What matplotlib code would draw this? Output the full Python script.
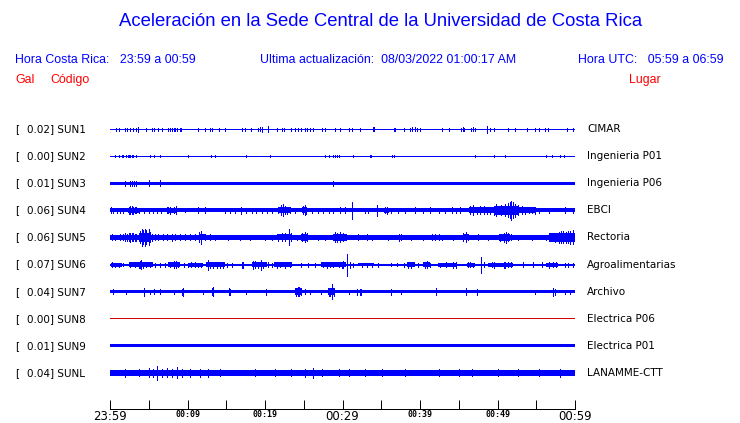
import numpy as np
import matplotlib
matplotlib.use("Agg")
import matplotlib.pyplot as plt

W, H = 740, 423

codes = ["SUN1", "SUN2", "SUN3", "SUN4", "SUN5", "SUN6", "SUN7", "SUN8", "SUN9", "SUNL"]
peaks = [0.02, 0.00, 0.01, 0.06, 0.06, 0.07, 0.04, 0.00, 0.01, 0.04]
places = ["CIMAR", "Ingenieria P01", "Ingenieria P06", "EBCI", "Rectoria",
          "Agroalimentarias", "Archivo", "Electrica P06", "Electrica P01", "LANAMME-CTT"]

# background amplitude of each trace (half width, screen units)
base_amp = [0.5, 0.5, 1.6, 2.0, 2.2, 1.0, 1.6, 0.5, 1.6, 3.0]

# spikes: minute after 23:59, half amplitude
sun1_t = [0.8, 1.2, 1.9, 2.2, 2.6, 3.0, 3.4, 3.6, 4.7, 5.4, 5.7, 6.2, 6.7, 7.5, 7.7, 8.0,
          8.2, 8.4, 8.6, 9.0, 9.2, 11.4, 12.3, 12.9, 13.1, 14.0, 14.8, 17.0, 17.4, 18.2,
          19.1, 19.4, 19.6, 20.4, 21.5, 22.2, 22.4, 23.4, 23.9, 24.3, 24.7, 25.2, 25.4,
          25.8, 26.2, 27.4, 27.7, 29.0, 29.7, 30.8, 31.2, 32.3, 33.9, 34.1, 36.6, 36.8,
          37.9, 38.7, 39.0, 39.3, 39.6, 40.0, 42.8, 43.7, 45.3, 45.5, 45.7, 46.6, 46.8,
          47.1, 48.6, 49.0, 49.6, 51.4, 52.3, 53.8, 54.8, 55.3, 56.1, 56.5, 59.0, 59.8]
sun1_a = [1.5, 1.5, 1.5, 1.5, 1.5, 1.5, 1.5, 2.5, 1.5, 1.5, 1.5, 1.5, 1.5, 1.5, 1.5, 1.5,
          1.5, 1.5, 1.5, 1.5, 1.5, 1.5, 1.5, 1.5, 1.5, 1.5, 1.5, 1.5, 1.5, 1.5,
          1.5, 2.0, 2.5, 3.0, 1.5, 1.5, 1.5, 1.5, 1.5, 1.5, 1.5, 1.5, 1.5,
          1.5, 1.5, 1.5, 1.5, 1.5, 1.5, 1.5, 1.5, 1.5, 2.0, 2.0, 1.5, 1.5,
          1.5, 1.5, 2.0, 2.0, 1.5, 1.5, 1.5, 1.5, 1.5, 2.0, 1.5, 1.5, 2.0,
          1.5, 3.5, 1.5, 1.5, 1.5, 1.5, 1.5, 1.5, 1.5, 1.5, 1.5, 1.5, 1.5]

sun2_t = [0.7, 1.2, 1.5, 1.7, 2.0, 2.3, 2.5, 2.6, 2.8, 3.0, 3.4, 5.1, 5.7, 6.4, 10.1,
          13.0, 13.6, 17.6, 20.7, 27.7, 28.2, 28.8, 29.0, 29.3, 29.5, 31.4, 33.5, 33.7,
          36.4, 36.7, 47.1, 49.5, 51.0, 56.2, 57.0, 58.1, 58.6]
sun2_a = [1.0] * len(sun2_t)

sun3_t = [1.9, 2.6, 2.9, 3.1, 3.3, 5.0, 6.4, 28.8]
sun3_a = [2.5, 2.5, 2.5, 2.5, 2.5, 3.0, 3.0, 2.5]

sun4_t = [0.1, 0.4, 0.9, 1.3, 1.7, 2.4, 2.6, 2.8, 3.0, 3.2, 3.4, 3.7, 4.4, 5.0, 5.6,
          6.0, 6.6, 7.3, 7.5, 7.8, 8.2, 8.5, 9.7, 11.3, 12.3, 14.8, 15.5, 16.1, 16.9,
          17.6, 18.3, 18.9, 19.6, 20.2, 20.9, 21.7, 22.1, 22.3, 22.6, 22.9, 23.2, 23.9,
          24.9, 25.1, 25.3, 26.0, 26.9, 27.5, 28.2, 28.8, 29.7, 30.3, 31.2, 32.9, 33.3,
          34.4, 35.5, 35.8, 36.3, 37.2, 38.1, 39.4, 40.4, 41.3, 42.4, 43.2, 44.1, 44.7,
          45.2, 46.5, 46.9, 47.3, 47.7, 48.2, 48.6, 49.0, 49.5, 49.8, 50.1, 50.5, 51.0,
          51.3, 51.6, 51.8, 52.0, 52.3, 52.7, 53.1, 53.6, 54.0, 54.4, 54.8, 55.3, 56.6,
          58.7, 59.8]
sun4_a = [3.0, 2.5, 2.5, 2.5, 2.5, 3.5, 4.0, 4.0, 3.5, 3.0, 3.0, 2.5, 2.5, 2.5, 2.5,
          2.5, 2.5, 3.0, 3.0, 3.5, 3.0, 4.0, 2.0, 3.0, 3.0, 2.5, 2.5, 2.5, 3.5,
          2.5, 2.5, 2.5, 2.5, 2.5, 2.5, 3.0, 5.0, 6.0, 4.0, 3.5, 3.0, 2.5,
          4.0, 5.0, 3.5, 2.5, 2.5, 2.5, 2.5, 2.5, 3.0, 3.0, 8.5, 2.5, 2.5,
          5.5, 3.0, 3.5, 2.5, 2.5, 2.5, 3.0, 2.5, 3.0, 2.5, 2.5, 3.0, 2.5,
          3.0, 4.0, 5.0, 3.5, 4.0, 4.0, 3.5, 3.5, 4.5, 6.0, 4.0, 5.0, 6.0,
          7.0, 8.0, 9.5, 8.0, 6.5, 5.0, 4.0, 3.5, 3.0, 3.0, 3.5, 2.5, 2.5,
          3.0, 2.5]

sun5_t = [0.2, 0.7, 1.3, 1.7, 1.9, 2.2, 2.4, 2.6, 2.8, 3.0, 3.2, 3.4, 3.9, 4.1, 4.3,
          4.5, 4.7, 5.0, 5.2, 5.4, 5.8, 6.2, 6.9, 7.3, 8.0, 8.4, 9.0, 9.7, 10.3, 11.0,
          11.5, 11.7, 11.8, 12.3, 12.9, 13.6, 15.2, 16.8, 18.1, 20.0, 20.9, 21.7, 22.2,
          22.6, 23.1, 23.4, 24.1, 24.8, 25.1, 25.4, 26.9, 27.7, 29.0, 29.3, 29.7, 30.1,
          30.5, 32.0, 33.1, 33.8, 35.9, 37.3, 37.6, 38.9, 40.4, 41.5, 41.9, 42.4, 42.8,
          44.3, 45.6, 45.9, 46.2, 47.5, 48.8, 50.3, 50.8, 51.1, 51.4, 51.8, 52.7, 54.4,
          56.3, 57.0, 57.4, 57.9, 58.2, 58.5, 58.8, 59.1, 59.4, 59.8]
sun5_a = [3.0, 2.5, 3.0, 3.0, 4.0, 3.5, 4.0, 4.5, 4.0, 4.0, 3.5, 3.5, 6.0, 8.5, 7.0,
          8.5, 7.0, 8.0, 5.0, 3.5, 3.0, 3.0, 3.0, 3.0, 3.5, 3.0, 3.0, 3.0, 3.0, 3.0,
          5.0, 6.5, 4.0, 3.0, 3.0, 2.5, 2.5, 2.5, 2.5, 2.5, 2.5, 3.5, 4.0,
          4.0, 8.0, 4.0, 2.5, 4.0, 5.0, 4.0, 2.5, 2.5, 5.0, 4.5, 5.0, 4.0,
          3.0, 3.0, 3.0, 2.5, 2.5, 3.5, 3.0, 2.5, 2.5, 3.0, 3.0, 3.0, 2.5,
          2.5, 4.0, 5.0, 3.0, 3.0, 2.5, 3.5, 4.5, 5.5, 4.0, 3.0, 2.5, 2.5,
          2.5, 3.5, 4.5, 5.5, 6.0, 6.0, 5.5, 6.0, 6.5, 7.0]

sun6_t = [0.2, 0.7, 1.1, 1.7, 2.6, 3.2, 3.7, 3.9, 4.0, 4.3, 4.7, 5.2, 5.8, 6.5, 7.1,
          7.7, 8.2, 8.5, 8.8, 9.5, 10.0, 10.5, 11.0, 11.4, 11.8, 12.6, 12.9, 13.3, 13.8,
          14.2, 14.6, 15.1, 15.7, 17.0, 17.2, 18.5, 18.7, 19.1, 19.5, 19.8, 20.4, 20.9,
          21.5, 21.9, 22.6, 23.2, 24.7, 25.6, 26.5, 27.5, 28.0, 28.4, 28.8, 29.5, 29.9,
          30.1, 30.6, 31.0, 31.4, 32.5, 33.1, 33.8, 34.6, 36.3, 37.0, 37.9, 38.5, 38.9,
          39.8, 40.6, 40.9, 41.3, 42.6, 43.4, 44.3, 44.7, 46.2, 46.5, 46.9, 47.9, 48.2,
          49.3, 49.5, 50.8, 51.0, 51.4, 51.8, 53.3, 54.6, 55.7, 56.6, 57.2, 57.6, 58.7,
          59.1, 59.8]
sun6_a = [2.5, 2.0, 2.0, 1.5, 2.0, 2.5, 3.0, 3.5, 4.5, 3.0, 2.5, 2.0, 2.0, 2.0, 2.0,
          2.5, 3.5, 3.5, 2.5, 2.0, 2.0, 2.5, 2.5, 2.0, 2.0, 5.0, 3.0, 3.0, 3.0,
          3.0, 3.0, 2.0, 2.0, 3.0, 3.0, 4.0, 3.5, 3.0, 5.0, 3.0, 2.5, 2.0,
          3.0, 2.5, 3.0, 2.5, 2.0, 2.0, 2.0, 2.5, 3.0, 2.5, 2.5, 2.5, 3.0,
          3.5, 11.0, 3.0, 2.0, 2.0, 2.0, 2.0, 2.0, 1.5, 1.5, 2.0, 3.0, 3.0,
          2.0, 3.0, 3.5, 2.0, 2.0, 2.5, 3.0, 3.0, 2.5, 2.5, 2.0, 8.0, 2.5,
          2.5, 3.0, 3.0, 3.0, 2.5, 2.5, 2.5, 2.5, 2.5, 3.0, 2.5, 2.5, 2.0,
          2.0, 2.0]

sun7_t = [0.4, 2.1, 4.4, 5.1, 5.7, 6.5, 8.2, 9.3, 9.4, 12.0, 13.2, 13.3, 15.3, 15.4,
          15.5, 17.6, 20.1, 24.0, 24.2, 24.4, 24.7, 25.1, 25.8, 27.2, 28.2, 28.4, 28.6,
          28.7, 28.9, 30.8, 31.9, 32.2, 32.4, 36.3, 37.6, 42.1, 45.9, 47.4, 54.8, 57.2,
          57.4, 58.7, 59.4]
sun7_a = [2.5, 2.0, 4.0, 2.0, 2.5, 2.5, 2.0, 3.0, 4.0, 2.0, 3.5, 4.5, 3.0, 3.5,
          3.0, 2.0, 3.0, 4.0, 4.5, 4.5, 3.0, 2.5, 2.0, 2.0, 4.0, 4.0, 4.5,
          7.5, 4.0, 2.0, 3.0, 3.0, 3.0, 3.0, 2.0, 3.5, 3.5, 3.0, 2.0, 4.0,
          3.0, 2.0, 2.0]

sun8_t = []
sun8_a = []

sun9_t = []
sun9_a = []

sunl_t = [1.9, 3.7, 5.0, 5.6, 6.1, 6.7, 7.3, 8.0, 8.7, 9.3, 10.3, 11.6, 12.7, 14.2,
          18.7, 21.3, 23.4, 25.2, 26.2, 27.3, 29.5, 30.8, 32.9, 35.1, 38.1, 42.4, 45.0,
          46.7, 50.1, 52.7, 55.3, 58.1]
sunl_a = [4.0, 3.5, 4.5, 4.0, 7.0, 4.0, 4.5, 4.0, 5.5, 4.0, 4.0, 4.0, 4.0, 3.5,
          3.5, 3.5, 3.5, 4.0, 5.0, 3.5, 3.5, 3.5, 3.5, 3.5, 3.5, 3.5, 3.5,
          3.5, 3.5, 3.5, 3.5, 4.0]

# louder stretches: start minute, end minute, half amplitude
sun4_bursts = [(2.3, 3.7, 2.8), (7.3, 8.6, 2.6), (21.7, 23.2, 3.0), (24.8, 25.4, 3.0),
               (35.4, 36.0, 2.5), (46.3, 55.0, 3.0), (49.5, 52.8, 4.5)]
sun5_bursts = [(0.2, 3.5, 2.6), (3.8, 5.3, 4.5), (5.3, 10.5, 2.4), (11.5, 12.4, 3.0),
               (21.6, 23.5, 3.0), (24.7, 25.5, 3.5), (28.8, 30.6, 3.5), (45.5, 46.2, 3.0),
               (50.2, 51.6, 3.2), (56.7, 60.0, 4.5)]
sun6_bursts = [(0.1, 1.6, 2.0), (2.4, 5.5, 2.3), (7.5, 9.0, 2.3), (10.0, 12.0, 2.0),
               (12.4, 14.8, 2.5), (18.3, 20.3, 2.5), (21.2, 23.5, 2.3), (27.2, 30.4, 2.3),
               (32.0, 34.0, 1.6), (38.3, 39.3, 2.3), (40.4, 41.3, 2.5), (42.3, 44.8, 2.0),
               (46.0, 47.1, 2.0), (48.8, 52.0, 2.0), (56.3, 57.8, 2.0)]
sun7_bursts = [(23.9, 24.8, 3.5), (28.1, 28.9, 3.5)]
sunl_bursts = [(4.5, 9.5, 3.4)]

spikes = [(sun1_t, sun1_a), (sun2_t, sun2_a), (sun3_t, sun3_a), (sun4_t, sun4_a),
          (sun5_t, sun5_a), (sun6_t, sun6_a), (sun7_t, sun7_a), (sun8_t, sun8_a),
          (sun9_t, sun9_a), (sunl_t, sunl_a)]
bursts = [[], [], [], sun4_bursts, sun5_bursts, sun6_bursts, sun7_bursts, [], [], sunl_bursts]

tick_min = np.arange(0, 61, 5)
tick_lab = ["23:59", "", "00:09", "", "00:19", "", "00:29", "", "00:39", "", "00:49", "", "00:59"]

BLUE = "#0000ff"
RED = "#ff0000"
trace_colors = [BLUE] * 7 + ["#dd0000"] + [BLUE] * 2

HEAD = "Liberation Sans"
LAB = "DejaVu Sans"
HS = 8.9

fig = plt.figure(figsize=(W / 100, H / 100), dpi=100)


def fx(x):
    return x / W


def fy(y):
    return 1 - y / H


fig.text(fx(381), fy(22), "Aceleración en la Sede Central de la Universidad de Costa Rica",
         ha="center", va="center", fontsize=13.3, color=BLUE, family=HEAD)
fig.text(fx(15), fy(60), "Hora Costa Rica:   23:59 a 00:59", ha="left", va="center",
         fontsize=HS, color=BLUE, family=HEAD)
fig.text(fx(260), fy(60), "Ultima actualización:  08/03/2022 01:00:17 AM", ha="left",
         va="center", fontsize=HS, color=BLUE, family=HEAD)
fig.text(fx(724), fy(60), "Hora UTC:   05:59 a 06:59", ha="right", va="center",
         fontsize=HS, color=BLUE, family=HEAD)
fig.text(fx(15), fy(80), "Gal", ha="left", va="center", fontsize=HS, color=RED, family=HEAD)
fig.text(fx(50), fy(80), "Código", ha="left", va="center", fontsize=HS, color=RED, family=HEAD)
fig.text(fx(629), fy(80), "Lugar", ha="left", va="center", fontsize=HS, color=RED, family=HEAD)

ax = fig.add_axes([fx(110), fy(409), fx(575) - fx(110), fy(115) - fy(409)])
ax.set_xlim(0, 60)
ax.set_ylim(409, 115)

px = 0.72  # one pixel in points
for i in range(len(codes)):
    yc = 129 + 27.1 * i
    c = trace_colors[i]
    b = base_amp[i]
    ax.fill_between([0, 60], yc - b, yc + b, color=c, lw=0, antialiased=False)
    for t0, t1, a in bursts[i]:
        ax.fill_between([t0, t1], yc - a, yc + a, color=c, lw=0, antialiased=False)
    t, a = spikes[i]
    if t:
        a = np.array(a)
        ax.vlines(t, yc - a, yc + a, color=c, lw=px, antialiased=False)

    fig.text(fx(15), fy(yc), "[", ha="left", va="center", fontsize=7.5, family=LAB)
    fig.text(fx(27), fy(yc), f"{peaks[i]:.2f}] {codes[i]}", ha="left", va="center",
             fontsize=7.5, family=LAB)
    fig.text(fx(587), fy(yc), places[i], ha="left", va="center", fontsize=7.5, family=LAB)

for s in ["top", "left", "right"]:
    ax.spines[s].set_visible(False)
ax.spines["bottom"].set_linewidth(px)
ax.set_yticks([])
ax.set_xticks(tick_min)
ax.set_xticklabels([])
ax.tick_params(axis="x", direction="in", length=6.5, width=px)
for t, lab in zip(tick_min, tick_lab):
    if not lab:
        continue
    if t % 30 == 0:
        ax.text(t, 420, lab, ha="center", va="baseline", fontsize=8.5,
                family="DejaVu Sans", clip_on=False)
    else:
        ax.text(t, 417, lab, ha="center", va="baseline", fontsize=6,
                family="DejaVu Sans Mono", fontweight="bold", clip_on=False)

fig.savefig("out.png", dpi=100)
